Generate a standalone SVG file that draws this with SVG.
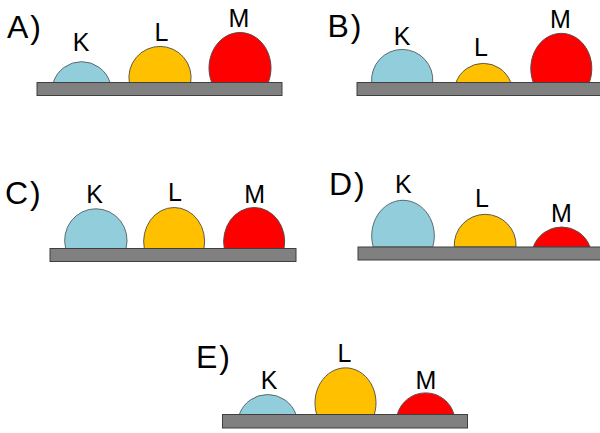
<svg xmlns="http://www.w3.org/2000/svg" width="600" height="433" viewBox="0 0 600 433">
<style>
.bar{fill:#808080;stroke:#3f3f3f;stroke-width:1}
.k{fill:#92CDDC;stroke:#5a6a6e;stroke-width:1}
.l{fill:#FFC000;stroke:#5f5a48;stroke-width:1}
.m{fill:#FF0000;stroke:#5f4848;stroke-width:1}
.lab{font-family:"Liberation Sans","DejaVu Sans",sans-serif;font-size:25px;fill:#000;text-anchor:middle}
.pan{font-family:"Liberation Sans","DejaVu Sans",sans-serif;font-size:32px;fill:#000;letter-spacing:2px}
</style>
<rect width="600" height="433" fill="#ffffff"/>
<g id="panelA">
  <text class="pan" x="7" y="38">A)</text>
  <path class="k" d="M53.3,82.5 A29.7,29.7 0 0 1 110,82.5 Z"/>
  <path class="l" d="M129.3,82.5 A31.1,31.1 0 1 1 190.7,82.5 Z"/>
  <path class="m" d="M211.7,82.5 A31,35.5 0 1 1 268.3,82.5 Z"/>
  <rect class="bar" x="37" y="82.5" width="245" height="13"/>
  <text class="lab" x="81" y="51">K</text>
  <text class="lab" x="161.5" y="40.7">L</text>
  <text class="lab" x="239" y="27.3">M</text>
</g>
<g id="panelB">
  <text class="pan" x="327.5" y="37">B)</text>
  <path class="k" d="M371.7,82.5 A30.6,30.6 0 1 1 432.7,82.5 Z"/>
  <path class="l" d="M456,82.5 A29.1,29.1 0 0 1 510.7,82.5 Z"/>
  <path class="m" d="M533.3,82.5 A30.5,35.2 0 1 1 589.3,82.5 Z"/>
  <rect class="bar" x="357" y="82.5" width="250" height="13"/>
  <text class="lab" x="402" y="45">K</text>
  <text class="lab" x="481" y="56">L</text>
  <text class="lab" x="560.5" y="28.3">M</text>
</g>
<g id="panelC">
  <text class="pan" x="5" y="204">C)</text>
  <path class="k" d="M65.7,248.5 A31.2,31.6 0 1 1 126,248.5 Z"/>
  <path class="l" d="M144.3,248.5 A30.5,34 0 1 1 204,248.5 Z"/>
  <path class="m" d="M224.3,248.5 A30.5,34 0 1 1 284,248.5 Z"/>
  <rect class="bar" x="50" y="248.5" width="246" height="13"/>
  <text class="lab" x="94.5" y="202.7">K</text>
  <text class="lab" x="175" y="200.7">L</text>
  <text class="lab" x="254.7" y="202.7">M</text>
</g>
<g id="panelD">
  <text class="pan" x="329" y="195">D)</text>
  <path class="k" d="M373.3,247 A31.3,35.5 0 1 1 432.7,247 Z"/>
  <path class="l" d="M454.3,247 A30.9,30.9 0 1 1 516,247 Z"/>
  <path class="m" d="M533.3,247 A30.1,30.1 0 0 1 590,247 Z"/>
  <rect class="bar" x="358" y="247" width="250" height="13"/>
  <text class="lab" x="403.3" y="193.3">K</text>
  <text class="lab" x="482" y="207.3">L</text>
  <text class="lab" x="561.3" y="221.7">M</text>
</g>
<g id="panelE">
  <text class="pan" x="196" y="368">E)</text>
  <path class="k" d="M239.3,414.5 A30.1,30.1 0 0 1 296,414.5 Z"/>
  <path class="l" d="M316.7,414.5 A30.5,35.1 0 1 1 374.3,414.5 Z"/>
  <path class="m" d="M397.3,414.5 A29.4,29.4 0 0 1 454,414.5 Z"/>
  <rect class="bar" x="222.5" y="414.5" width="245" height="13.5"/>
  <text class="lab" x="269" y="389.3">K</text>
  <text class="lab" x="344.5" y="362.3">L</text>
  <text class="lab" x="425.8" y="389.3">M</text>
</g>
<g id="connectors"></g>
</svg>
